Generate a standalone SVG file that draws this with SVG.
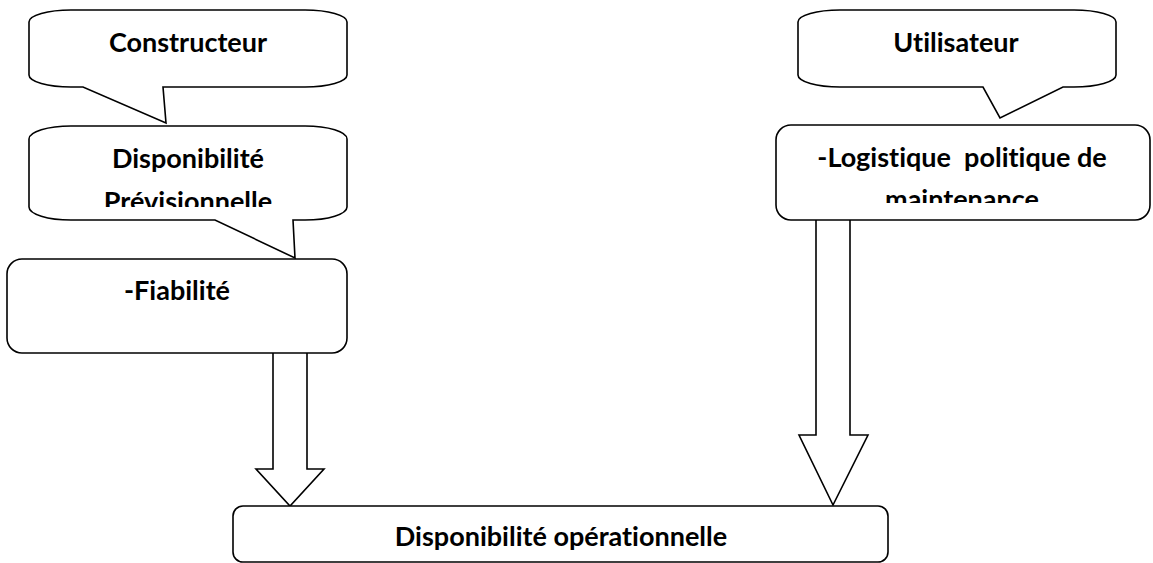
<svg xmlns="http://www.w3.org/2000/svg" width="1153" height="563" viewBox="0 0 1153 563">
  <style>
    .shape { fill: #ffffff; stroke: #000000; stroke-width: 1.6; stroke-linejoin: miter; }
    .label { font-family: Lato, "Open Sans", sans-serif; font-weight: bold; font-size: 27px; fill: #000000; text-anchor: middle; font-variant-ligatures: none; }
  </style>
  <defs>
    <clipPath id="clip-previsionnelle"><rect x="20" y="130" width="330" height="77"/></clipPath>
    <clipPath id="clip-maintenance"><rect x="780" y="128" width="370" height="75"/></clipPath>
  </defs>

  <rect width="1153" height="563" fill="#ffffff"/>

  <!-- Block arrows into the operational availability box (drawn first so box borders stay on top) -->
  <g id="connectors">
    <path class="shape" d="M273,353 V469 H256 L290,506 L324,469 H307 V353"/>
    <path class="shape" d="M816,220 V435 H799 L833,505 L868,435 H850 V220"/>
  </g>

  <!-- Callout: Constructeur -->
  <g id="constructeur">
    <path class="shape" d="M71,10 H305 A42,12 0 0 1 347,22 V75 A42,12 0 0 1 305,87 H163 L166,123 L83,87 H71 A42,12 0 0 1 29,75 V22 A42,12 0 0 1 71,10 Z"/>
    <text class="label" x="188" y="52">Constructeur</text>
  </g>

  <!-- Callout: Disponibilité Prévisionnelle -->
  <g id="disponibilite-previsionnelle">
    <path class="shape" d="M71,126 H305 A42,13 0 0 1 347,139 V207 A42,13 0 0 1 305,220 H293 L295,258 L215,220 H71 A42,13 0 0 1 29,207 V139 A42,13 0 0 1 71,126 Z"/>
    <g clip-path="url(#clip-previsionnelle)">
      <text class="label" x="188" y="168">Disponibilité</text>
      <text class="label" x="188" y="211">Prévisionnelle</text>
    </g>
  </g>

  <!-- Box: Fiabilité -->
  <g id="fiabilite">
    <rect class="shape" x="7" y="259" width="340" height="94" rx="15" ry="15"/>
    <text class="label" x="177" y="300">-Fiabilité</text>
  </g>

  <!-- Callout: Utilisateur -->
  <g id="utilisateur">
    <path class="shape" d="M840,10 H1074 A42,12 0 0 1 1116,22 V75 A42,12 0 0 1 1074,87 H1063 L1000,118 L983,87 H840 A42,12 0 0 1 798,75 V22 A42,12 0 0 1 840,10 Z"/>
    <text class="label" x="956" y="52">Utilisateur</text>
  </g>

  <!-- Box: Logistique politique de maintenance -->
  <g id="logistique">
    <rect class="shape" x="776" y="125" width="374" height="95" rx="15" ry="15"/>
    <g clip-path="url(#clip-maintenance)">
      <text class="label" x="962" y="167" xml:space="preserve">-Logistique  politique de</text>
      <text class="label" x="962" y="209">maintenance</text>
    </g>
  </g>

  <!-- Box: Disponibilité opérationnelle -->
  <g id="disponibilite-operationnelle">
    <rect class="shape" x="233" y="506" width="655" height="56" rx="10" ry="10"/>
    <text class="label" x="561" y="546">Disponibilité opérationnelle</text>
  </g>
</svg>
